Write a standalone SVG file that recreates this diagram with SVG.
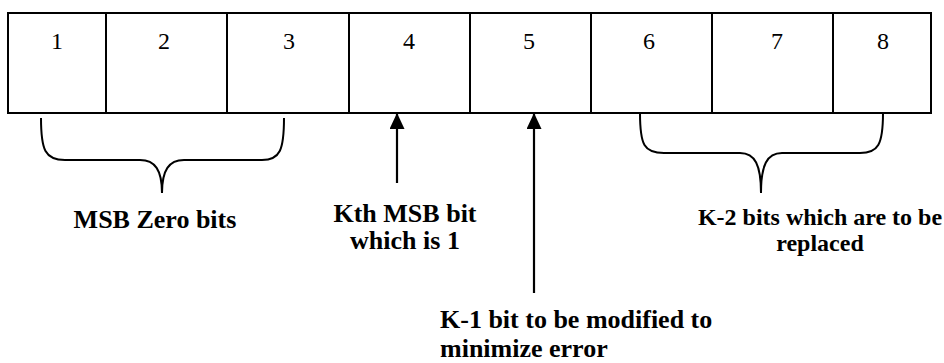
<svg xmlns="http://www.w3.org/2000/svg" width="944" height="363" viewBox="0 0 944 363">
  <style>
    .cell { fill: #fff; stroke: #000; stroke-width: 2; }
    .num { font-size: 24px; text-anchor: middle; fill: #000; }
    .lbl { font-weight: bold; font-size: 26px; fill: #000; }
    .lbl.small { font-size: 24px; }
    .brace { fill: none; stroke: #000; stroke-width: 2; }
    .arrow { stroke: #000; stroke-width: 2.2; fill: none; marker-end: url(#head); }
  </style>
  <defs>
    <marker id="head" viewBox="0 0 16 15" refX="16" refY="7.5" markerWidth="16" markerHeight="15" markerUnits="userSpaceOnUse" orient="auto">
      <path d="M0,0 L16,7.5 L0,15 Z" fill="#000"/>
    </marker>
  </defs>

  <g font-family="'Liberation Serif', 'Times New Roman', Times, serif">
  <!-- eight-bit register -->
  <g id="bit1"><rect class="cell" x="8" y="13" width="98" height="100"/><text class="num" x="57" y="49">1</text></g>
  <g id="bit2"><rect class="cell" x="106" y="13" width="121" height="100"/><text class="num" x="164" y="49">2</text></g>
  <g id="bit3"><rect class="cell" x="227" y="13" width="122" height="100"/><text class="num" x="289" y="49">3</text></g>
  <g id="bit4"><rect class="cell" x="349" y="13" width="121" height="100"/><text class="num" x="409" y="49">4</text></g>
  <g id="bit5"><rect class="cell" x="470" y="13" width="121" height="100"/><text class="num" x="529" y="49">5</text></g>
  <g id="bit6"><rect class="cell" x="591" y="13" width="121" height="100"/><text class="num" x="649" y="49">6</text></g>
  <g id="bit7"><rect class="cell" x="712" y="13" width="121" height="100"/><text class="num" x="777" y="49">7</text></g>
  <g id="bit8"><rect class="cell" x="833" y="13" width="98" height="100"/><text class="num" x="883" y="49">8</text></g>

  <!-- braces and pointers -->
  <g id="connectors">
    <path class="brace" d="M41,118 C41,150 45,160 65,160 L140,160 C155,160 162,170 162,193 C162,170 169,160 184,160 L262,160 C280,160 284,150 284,118"/>
    <path class="brace" d="M640,113 C640,145 644,153 664,153 L740,153 C755,153 761,165 761,193 C761,165 767,153 782,153 L860,153 C878,153 883,145 883,113"/>
    <line class="arrow" x1="397" y1="183" x2="397" y2="113"/>
    <line class="arrow" x1="534" y1="293" x2="534" y2="113"/>
  </g>

  <!-- labels -->
  <g id="label-msb-zero">
    <text class="lbl" x="155" y="228" text-anchor="middle">MSB Zero bits</text>
  </g>
  <g id="label-kth">
    <text class="lbl" x="405" y="222" text-anchor="middle">Kth MSB bit</text>
    <text class="lbl" x="405" y="249" text-anchor="middle">which is 1</text>
  </g>
  <g id="label-k2">
    <text class="lbl small" x="820" y="225" text-anchor="middle">K-2 bits which are to be</text>
    <text class="lbl small" x="820" y="251" text-anchor="middle">replaced</text>
  </g>
  <g id="label-k1">
    <text class="lbl" x="440" y="328">K-1 bit to be modified to</text>
    <text class="lbl" x="440" y="357">minimize error</text>
  </g>
  </g>
</svg>
